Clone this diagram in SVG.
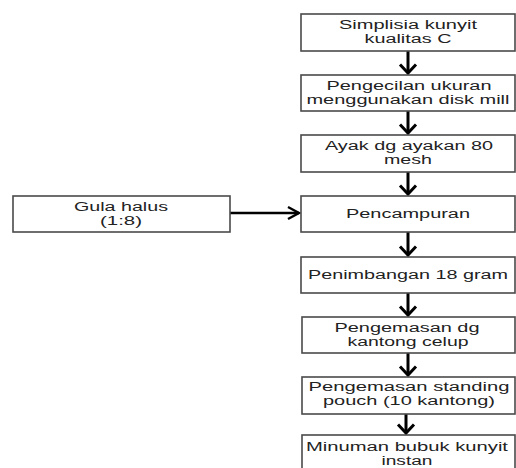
<svg xmlns="http://www.w3.org/2000/svg" width="516" height="468" viewBox="0 0 516 468">
<style>
.box{fill:#fff;stroke:#4a4a4a;stroke-width:1.6}
text{font-family:"Liberation Sans",Arial,sans-serif;font-size:12.5px;fill:#222;text-anchor:middle}
.v{stroke:#000;stroke-width:3;fill:none}
.h{stroke:#000;stroke-width:2.4;fill:none}
</style>
<defs>
<marker id="chev" markerUnits="userSpaceOnUse" markerWidth="20" markerHeight="20" refX="10" refY="10" orient="auto" overflow="visible">
<path d="M1.5,2 L10,10 L1.5,18" fill="none" stroke="#000" stroke-width="3"/>
</marker>
<marker id="chevh" markerUnits="userSpaceOnUse" markerWidth="20" markerHeight="20" refX="10" refY="10" orient="auto" overflow="visible">
<path d="M-1,4 L10,10 L-1,16" fill="none" stroke="#000" stroke-width="2.4"/>
</marker>
</defs>
<rect width="516" height="468" fill="#fff"/>
<g id="connectors">
<line class="v" x1="408" y1="51" x2="408" y2="73" marker-end="url(#chev)"/>
<line class="v" x1="408" y1="111" x2="408" y2="133" marker-end="url(#chev)"/>
<line class="v" x1="408" y1="172" x2="408" y2="194" marker-end="url(#chev)"/>
<line class="v" x1="408" y1="232" x2="408" y2="255" marker-end="url(#chev)"/>
<line class="v" x1="408" y1="293" x2="408" y2="315" marker-end="url(#chev)"/>
<line class="v" x1="408" y1="353" x2="408" y2="375" marker-end="url(#chev)"/>
<line class="v" x1="406" y1="414" x2="406" y2="433" marker-end="url(#chev)"/>
<line class="h" x1="230" y1="213" x2="299" y2="213" marker-end="url(#chevh)"/>
</g>
<g id="n1"><rect class="box" x="301" y="14" width="214" height="37"/>
<text x="408" y="29" textLength="138" lengthAdjust="spacingAndGlyphs">Simplisia kunyit</text>
<text x="408" y="43" textLength="87" lengthAdjust="spacingAndGlyphs">kualitas C</text></g>
<g id="n2"><rect class="box" x="301" y="75" width="214" height="36"/>
<text x="409" y="90" textLength="165" lengthAdjust="spacingAndGlyphs">Pengecilan ukuran</text>
<text x="408" y="104" textLength="203" lengthAdjust="spacingAndGlyphs">menggunakan disk mill</text></g>
<g id="n3"><rect class="box" x="301" y="135" width="214" height="37"/>
<text x="409" y="150" textLength="168" lengthAdjust="spacingAndGlyphs">Ayak dg ayakan 80</text>
<text x="408" y="164" textLength="48" lengthAdjust="spacingAndGlyphs">mesh</text></g>
<g id="n4"><rect class="box" x="301" y="196" width="214" height="36"/>
<text x="408" y="218" textLength="124" lengthAdjust="spacingAndGlyphs">Pencampuran</text></g>
<g id="n5"><rect class="box" x="301" y="257" width="214" height="36"/>
<text x="408" y="279" textLength="200" lengthAdjust="spacingAndGlyphs">Penimbangan 18 gram</text></g>
<g id="n6"><rect class="box" x="302" y="317" width="213" height="36"/>
<text x="407" y="332" textLength="145" lengthAdjust="spacingAndGlyphs">Pengemasan dg</text>
<text x="408" y="346" textLength="121" lengthAdjust="spacingAndGlyphs">kantong celup</text></g>
<g id="n7"><rect class="box" x="302" y="377" width="213" height="37"/>
<text x="409" y="391" textLength="201" lengthAdjust="spacingAndGlyphs">Pengemasan standing</text>
<text x="409" y="405" textLength="172" lengthAdjust="spacingAndGlyphs">pouch (10 kantong)</text></g>
<g id="n8"><rect class="box" x="302" y="435" width="213" height="40"/>
<text x="407" y="451" textLength="202" lengthAdjust="spacingAndGlyphs">Minuman bubuk kunyit</text>
<text x="407" y="465" textLength="51" lengthAdjust="spacingAndGlyphs">instan</text></g>
<g id="n9"><rect class="box" x="13" y="196" width="217" height="36"/>
<text x="121" y="211" textLength="94" lengthAdjust="spacingAndGlyphs">Gula halus</text>
<text x="121" y="225" textLength="42" lengthAdjust="spacingAndGlyphs">(1:8)</text></g>
</svg>
